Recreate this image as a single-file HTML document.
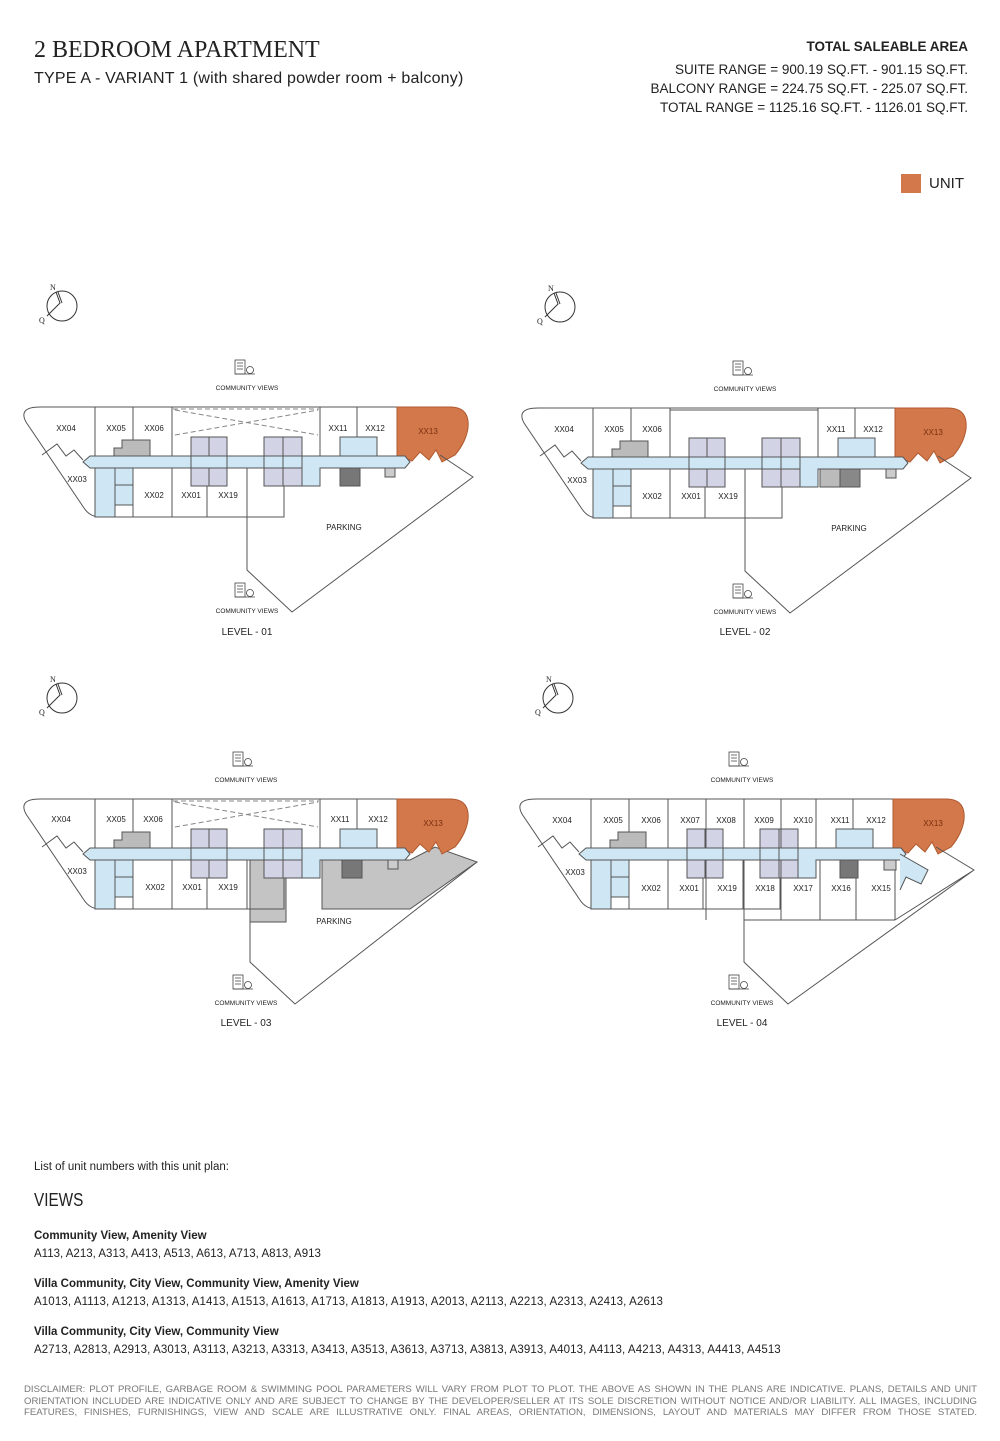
<!DOCTYPE html>
<html><head><meta charset="utf-8"><style>
html,body{margin:0;padding:0;background:#fff;}
body{width:1000px;height:1441px;position:relative;overflow:hidden;font-family:"Liberation Sans",sans-serif;color:#222;}
.t{position:absolute;white-space:nowrap;}
</style></head><body>
<div class="t" style="left:34px;top:37px;font-family:'Liberation Serif',serif;font-size:24px;color:#222;">2 BEDROOM APARTMENT</div>
<div class="t" style="left:34px;top:70px;font-size:16px;letter-spacing:0.2px;">TYPE A - VARIANT 1 (with shared powder room + balcony)</div>
<div class="t" style="right:32px;top:39px;font-size:13.5px;font-weight:bold;text-align:right;">TOTAL SALEABLE AREA</div>
<div class="t" style="right:32px;top:60px;font-size:13.5px;text-align:right;line-height:19px;">SUITE RANGE = 900.19 SQ.FT. - 901.15 SQ.FT.<br>BALCONY RANGE = 224.75 SQ.FT. - 225.07 SQ.FT.<br>TOTAL RANGE = 1125.16 SQ.FT. - 1126.01 SQ.FT.</div>
<div style="position:absolute;left:901px;top:174px;width:20px;height:19px;background:#d3784a;"></div>
<div class="t" style="left:929px;top:175px;font-size:15px;">UNIT</div>

<svg width="1000" height="1441" style="position:absolute;left:0;top:0" xmlns="http://www.w3.org/2000/svg">
<defs>
<g id="base" stroke="#555" stroke-width="1" fill="none">
  <path d="M40 407 L397 407" />
  <path d="M40 407 Q18 407 26 422 L84 508 Q90 517 100 517 L284 517 L284 468"/>
  <path d="M42 455 L57 444 L66 456 L74 450 L83 460"/>
  <path d="M95 407 V517 M133 407 V456 M172 407 V517 M320 407 V456 M357 407 V456 M397 407 V456 M207 468 V517 M247 468 V517 M133 468 V517"/>
  <path d="M397 407 L450 407 Q470 407 468 428 Q466 442 455 455 L442 462 L436 450 L429 460 L420 452 L412 461 L404 458 L397 458 Z" fill="#d3784a" stroke="#b05a30"/>
  <path d="M83 462 L90 456 L405 456 L410 462 L405 468 L320 468 L320 486 L301 486 L301 468 L90 468 Z" fill="#cfe7f5" stroke="#555"/>
  <rect x="95" y="468" width="20" height="49" fill="#cfe7f5"/>
  <rect x="115" y="468" width="18" height="37" fill="#cfe7f5"/>
  <path d="M115 485 H133"/>
  <path d="M114 456 V448 H122 V440 H150 V456 Z" fill="#bbb"/>
  <rect x="191" y="437" width="36" height="49" fill="#d3d3e6"/>
  <path d="M209 437 V486 M191 456 H227 M191 468 H227"/>
  <rect x="191" y="456" width="36" height="12" fill="#cfe7f5"/>
  <rect x="264" y="437" width="38" height="49" fill="#d3d3e6"/>
  <rect x="264" y="456" width="38" height="12" fill="#cfe7f5"/>
  <path d="M283 437 V486 M264 456 H302 M264 468 H302"/>
  <rect x="340" y="437" width="37" height="19" fill="#cfe7f5"/>
</g>
<g id="compass" stroke="#333" fill="none" stroke-width="1">
  <circle cx="62" cy="306" r="15"/>
  <path d="M56 292 L60 303 L47 316 M58 292 L62 303"/>
</g>
<g id="icon" stroke="#444" fill="none" stroke-width="0.8">
  <rect x="0" y="0" width="10" height="14"/><path d="M2 3h6M2 6h6M2 9h6M0 14h20"/><circle cx="15" cy="10" r="3.5"/>
</g>
</defs>

<g font-family="Liberation Sans, sans-serif" fill="#222">
<g>
<use href="#compass"/>
<text x="50" y="290" font-size="8" font-family="Liberation Serif">N</text><text x="39" y="323" font-size="8" font-family="Liberation Serif">Q</text>
<use href="#base"/>
<path d="M175 410 L318 435 M175 435 L318 410 M173 409 H319" stroke="#888" stroke-dasharray="5,3" fill="none"/>
<rect x="340" y="468" width="20" height="18" fill="#777" stroke="#555"/>
<rect x="385" y="468" width="10" height="9" fill="#ccc" stroke="#555"/>
<path d="M247 517 L247 570 L292 612 L473 477 L440 455" stroke="#555" fill="none"/>
<use href="#icon" x="235" y="360"/><use href="#icon" x="235" y="583"/>
</g>
<g transform="translate(498,1)">
<use href="#compass"/>
<text x="50" y="290" font-size="8" font-family="Liberation Serif">N</text><text x="39" y="323" font-size="8" font-family="Liberation Serif">Q</text>
<use href="#base"/>
<path d="M172 409 H320" stroke="#555" fill="none"/>
<rect x="322" y="468" width="20" height="18" fill="#bbb" stroke="#555"/>
<rect x="342" y="468" width="20" height="18" fill="#888" stroke="#555"/>
<rect x="388" y="468" width="10" height="9" fill="#ccc" stroke="#555"/>
<path d="M247 517 L247 570 L292 612 L473 477 L440 455" stroke="#555" fill="none"/>
<use href="#icon" x="235" y="360"/><use href="#icon" x="235" y="583"/>
</g>
<g transform="translate(0,392)">
<use href="#compass"/>
<text x="50" y="290" font-size="8" font-family="Liberation Serif">N</text><text x="39" y="323" font-size="8" font-family="Liberation Serif">Q</text>
<path d="M250 468 H286 V530 H250 Z" fill="#c4c4c4" stroke="#555"/>
<path d="M322 468 L410 468 L435 455 L477 470 L410 517 L322 517 Z" fill="#c4c4c4" stroke="#555"/>
<use href="#base"/>
<path d="M175 410 L318 435 M175 435 L318 410 M173 409 H319" stroke="#888" stroke-dasharray="5,3" fill="none"/>
<rect x="342" y="468" width="20" height="18" fill="#777" stroke="#555"/>
<rect x="388" y="468" width="10" height="9" fill="#ccc" stroke="#555"/>
<path d="M250 530 L250 570 L295 612 L477 470" stroke="#555" fill="none"/>
<use href="#icon" x="233" y="360"/><use href="#icon" x="233" y="583"/>
</g>
<g transform="translate(496,392)">
<use href="#compass"/>
<text x="50" y="290" font-size="8" font-family="Liberation Serif">N</text><text x="39" y="323" font-size="8" font-family="Liberation Serif">Q</text>
<use href="#base"/>
<path d="M210 407 V456 M248 407 V456 M285 407 V456 M210 468 V528 M248 468 V528 M285 468 V528 M324 468 V528 M360 468 V528 M399 468 V528 M248 528 H399" stroke="#555" fill="none"/>
<rect x="344" y="468" width="18" height="18" fill="#777" stroke="#555"/>
<rect x="388" y="468" width="12" height="10" fill="#ccc" stroke="#555"/>
<path d="M404 462 L432 478 L425 492 L410 485 L404 498" stroke="#555" fill="#cfe7f5"/>
<path d="M440 455 L478 478 L399 528 M248 528 L248 570 L292 612 L478 478" stroke="#555" fill="none"/>
<use href="#icon" x="233" y="360"/><use href="#icon" x="233" y="583"/>
</g>
</g>

<g font-family="Liberation Sans, sans-serif" font-size="8" fill="#222" text-anchor="middle">
<text x="66" y="431">XX04</text><text x="116" y="431">XX05</text><text x="154" y="431">XX06</text><text x="338" y="431">XX11</text><text x="375" y="431">XX12</text><text x="428" y="434" fill="#7a2e10">XX13</text>
<text x="77" y="482">XX03</text><text x="154" y="498">XX02</text><text x="191" y="498">XX01</text><text x="228" y="498">XX19</text><text x="344" y="530">PARKING</text>
<text x="247" y="390" font-size="6.5">COMMUNITY VIEWS</text><text x="247" y="613" font-size="6.5">COMMUNITY VIEWS</text>
<text x="247" y="635" font-size="10">LEVEL - 01</text>
<g transform="translate(498,1)">
<text x="66" y="431">XX04</text><text x="116" y="431">XX05</text><text x="154" y="431">XX06</text><text x="338" y="431">XX11</text><text x="375" y="431">XX12</text><text x="435" y="434" fill="#7a2e10">XX13</text>
<text x="79" y="482">XX03</text><text x="154" y="498">XX02</text><text x="193" y="498">XX01</text><text x="230" y="498">XX19</text><text x="351" y="530">PARKING</text>
<text x="247" y="390" font-size="6.5">COMMUNITY VIEWS</text><text x="247" y="613" font-size="6.5">COMMUNITY VIEWS</text>
<text x="247" y="634" font-size="10">LEVEL - 02</text>
</g>
<g transform="translate(0,392)">
<text x="61" y="430">XX04</text><text x="116" y="430">XX05</text><text x="153" y="430">XX06</text><text x="340" y="430">XX11</text><text x="378" y="430">XX12</text><text x="433" y="434" fill="#7a2e10">XX13</text>
<text x="77" y="482">XX03</text><text x="155" y="498">XX02</text><text x="192" y="498">XX01</text><text x="228" y="498">XX19</text><text x="334" y="532">PARKING</text>
<text x="246" y="390" font-size="6.5">COMMUNITY VIEWS</text><text x="246" y="613" font-size="6.5">COMMUNITY VIEWS</text>
<text x="246" y="634" font-size="10">LEVEL - 03</text>
</g>
<g transform="translate(496,392)">
<text x="66" y="431">XX04</text><text x="117" y="431">XX05</text><text x="155" y="431">XX06</text><text x="194" y="431">XX07</text><text x="230" y="431">XX08</text><text x="268" y="431">XX09</text><text x="307" y="431">XX10</text><text x="344" y="431">XX11</text><text x="380" y="431">XX12</text><text x="437" y="434" fill="#7a2e10">XX13</text>
<text x="79" y="483">XX03</text><text x="155" y="499">XX02</text><text x="193" y="499">XX01</text><text x="231" y="499">XX19</text><text x="269" y="499">XX18</text><text x="307" y="499">XX17</text><text x="345" y="499">XX16</text><text x="385" y="499">XX15</text>
<text x="246" y="390" font-size="6.5">COMMUNITY VIEWS</text><text x="246" y="613" font-size="6.5">COMMUNITY VIEWS</text>
<text x="246" y="634" font-size="10">LEVEL - 04</text>
</g>
</g>
</svg>

<div class="t" style="left:34px;top:1161px;font-size:11.5px;">List of unit numbers with this unit plan:</div>
<div class="t" style="left:34px;top:1190px;font-size:18px;transform:scaleX(0.85);transform-origin:left;">VIEWS</div>
<div class="t" style="left:34px;top:1230px;font-size:11.5px;font-weight:bold;">Community View, Amenity View</div>
<div class="t" style="left:34px;top:1248px;font-size:11.5px;">A113, A213, A313, A413, A513, A613, A713, A813, A913</div>
<div class="t" style="left:34px;top:1278px;font-size:11.5px;font-weight:bold;">Villa Community, City View, Community View, Amenity View</div>
<div class="t" style="left:34px;top:1296px;font-size:11.5px;letter-spacing:0.12px;">A1013, A1113, A1213, A1313, A1413, A1513, A1613, A1713, A1813, A1913, A2013, A2113, A2213, A2313, A2413, A2613</div>
<div class="t" style="left:34px;top:1326px;font-size:11.5px;font-weight:bold;">Villa Community, City View, Community View</div>
<div class="t" style="left:34px;top:1344px;font-size:11.5px;letter-spacing:0.1px;">A2713, A2813, A2913, A3013, A3113, A3213, A3313, A3413, A3513, A3613, A3713, A3813, A3913, A4013, A4113, A4213, A4313, A4413, A4513</div>
<div style="position:absolute;left:24px;top:1384px;width:953px;font-size:9.6px;line-height:11.5px;color:#777;text-align:justify;text-align-last:justify;">DISCLAIMER: PLOT PROFILE, GARBAGE ROOM &amp; SWIMMING POOL PARAMETERS WILL VARY FROM PLOT TO PLOT. THE ABOVE AS SHOWN IN THE PLANS ARE INDICATIVE. PLANS, DETAILS AND UNIT ORIENTATION INCLUDED ARE INDICATIVE ONLY AND ARE SUBJECT TO CHANGE BY THE DEVELOPER/SELLER AT ITS SOLE DISCRETION WITHOUT NOTICE AND/OR LIABILITY. ALL IMAGES, INCLUDING FEATURES, FINISHES, FURNISHINGS, VIEW AND SCALE ARE ILLUSTRATIVE ONLY. FINAL AREAS, ORIENTATION, DIMENSIONS, LAYOUT AND MATERIALS MAY DIFFER FROM THOSE STATED.</div>
</body></html>
